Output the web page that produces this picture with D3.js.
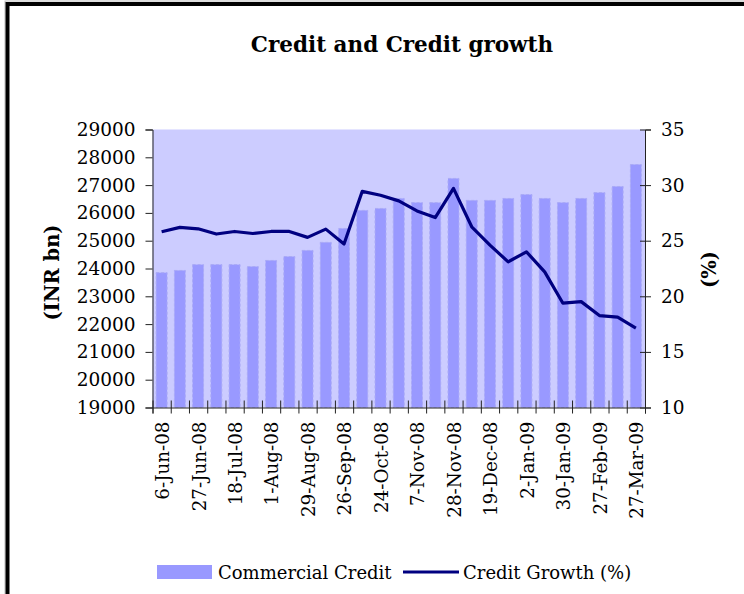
<!DOCTYPE html>
<html><head><meta charset="utf-8">
<script src="https://cdn.jsdelivr.net/npm/d3@7"></script>
<style>body{margin:0;background:#fff}svg{display:block}</style>
</head><body><svg id="c" width="744" height="594"></svg>
<script>
const dates = ["6-Jun-08","20-Jun-08","27-Jun-08","4-Jul-08","18-Jul-08","25-Jul-08","1-Aug-08","15-Aug-08","29-Aug-08","12-Sep-08","26-Sep-08","10-Oct-08","24-Oct-08","31-Oct-08","7-Nov-08","21-Nov-08","28-Nov-08","5-Dec-08","19-Dec-08","26-Dec-08","2-Jan-09","16-Jan-09","30-Jan-09","13-Feb-09","27-Feb-09","13-Mar-09","27-Mar-09"];
const tickLabels = ["6-Jun-08","27-Jun-08","18-Jul-08","1-Aug-08","29-Aug-08","26-Sep-08","24-Oct-08","7-Nov-08","28-Nov-08","19-Dec-08","2-Jan-09","30-Jan-09","27-Feb-09","27-Mar-09"];
const commercialCredit = [23850,23930,24140,24140,24140,24070,24290,24430,24650,24940,25440,26090,26160,26520,26370,26370,27240,26450,26450,26520,26660,26520,26370,26520,26730,26950,27740];
const creditGrowth = [25.8,26.2,26.07,25.6,25.83,25.65,25.83,25.83,25.3,26.04,24.7,29.44,29.09,28.58,27.68,27.08,29.7,26.25,24.6,23.1,24.0,22.2,19.38,19.52,18.27,18.12,17.14];
const leftTicks = [19000,20000,21000,22000,23000,24000,25000,26000,27000,28000,29000];
const rightTicks = [10,15,20,25,30,35];
const title = "Credit and Credit growth";
const leftTitle = "(INR bn)";
const rightTitle = "(%)";
const legendLabels = ["Commercial Credit","Credit Growth (%)"];

const svg = d3.select("#c");
const FONT = "'DejaVu Serif', serif";
const L = 152.5, R = 645, T = 129.5, B = 407.5;

// outer frame
svg.append("rect").attr("x",5).attr("y",1).attr("width",760).attr("height",620)
  .attr("fill","none").attr("stroke","#bbb").attr("stroke-width",1);
svg.append("rect").attr("x",7.5).attr("y",4).attr("width",760).attr("height",620)
  .attr("fill","none").attr("stroke","#000").attr("stroke-width",4);

const x = d3.scaleBand().domain(dates).range([L,R]).padding(0);
const yL = d3.scaleLinear().domain([19000,29000]).range([B,T]);
const yR = d3.scaleLinear().domain([10,35]).range([B,T]);

// plot background
svg.append("rect").attr("x",L).attr("y",T).attr("width",R-L).attr("height",B-T).attr("fill","#CCCCFF");

// bars
const bw = x.bandwidth();
svg.append("g").selectAll("rect").data(commercialCredit).join("rect")
  .attr("x",(d,i)=>x(dates[i])+bw*0.2)
  .attr("width",bw*0.6)
  .attr("y",d=>yL(d))
  .attr("height",d=>B-yL(d))
  .attr("fill","#9999FF")
  .attr("stroke","#AAAAF6").attr("stroke-width",1).attr("stroke-dasharray","3,2");

// line
const line = d3.line().x((d,i)=>x(dates[i])+bw/2).y(d=>yR(d));
svg.append("path").datum(creditGrowth).attr("d",line)
  .attr("fill","none").attr("stroke","#000080").attr("stroke-width",3.2).attr("stroke-linejoin","round");

// left axis
const gL = svg.append("g").attr("transform",`translate(${L},0)`)
  .call(d3.axisLeft(yL).tickValues(leftTicks).tickFormat(d3.format("d")).tickSize(7).tickPadding(10));
// right axis
const gR = svg.append("g").attr("transform",`translate(${R},0)`)
  .call(d3.axisRight(yR).tickValues(rightTicks).tickFormat(d3.format("d")).tickSize(6).tickPadding(10));
gR.selectAll(".tick line").attr("x1",-5);
// bottom axis: boundary ticks
const xi = d3.scaleLinear().domain([0,dates.length]).range([L,R]);
const gB = svg.append("g").attr("transform",`translate(0,${B})`)
  .call(d3.axisBottom(xi).tickValues(d3.range(dates.length+1)).tickFormat("").tickSize(6));
gB.selectAll(".tick line").attr("y1",-7);

[gL,gR,gB].forEach(g=>{
  g.selectAll(".domain").attr("stroke","#222");
  g.selectAll(".tick line").attr("stroke","#222");
  g.selectAll("text").attr("font-family",FONT).attr("font-size",18.5).attr("fill","#000");
});

// bottom labels
svg.append("g").selectAll("text").data(tickLabels).join("text")
  .attr("transform",d=>`translate(${x(d)+bw/2+1},${B+14}) rotate(-90)`)
  .attr("text-anchor","end").attr("dy","0.35em")
  .attr("font-family",FONT).attr("font-size",18.3).attr("fill","#000")
  .text(d=>d);

// titles
svg.append("text").attr("x",402).attr("y",52).attr("text-anchor","middle")
  .attr("font-family",FONT).attr("font-weight","bold").attr("font-size",21.5).text(title);
svg.append("text").attr("transform",`translate(52,${(T+B)/2+4}) rotate(-90)`).attr("text-anchor","middle").attr("dy","0.35em")
  .attr("font-family",FONT).attr("font-weight","bold").attr("font-size",19.5).text(leftTitle);
svg.append("text").attr("transform",`translate(709,${(T+B)/2+1}) rotate(-90)`).attr("text-anchor","middle").attr("dy","0.35em")
  .attr("font-family",FONT).attr("font-weight","bold").attr("font-size",19.5).text(rightTitle);

// legend
const lg = svg.append("g");
lg.append("rect").attr("x",157).attr("y",565).attr("width",55).attr("height",14).attr("fill","#9999FF");
lg.append("text").attr("x",218).attr("y",579).attr("font-family",FONT).attr("font-size",18).text(legendLabels[0]);
lg.append("line").attr("x1",403).attr("x2",459).attr("y1",572).attr("y2",572).attr("stroke","#000080").attr("stroke-width",3.2);
lg.append("text").attr("x",463).attr("y",579).attr("font-family",FONT).attr("font-size",18).text(legendLabels[1]);
</script>
</body></html>
